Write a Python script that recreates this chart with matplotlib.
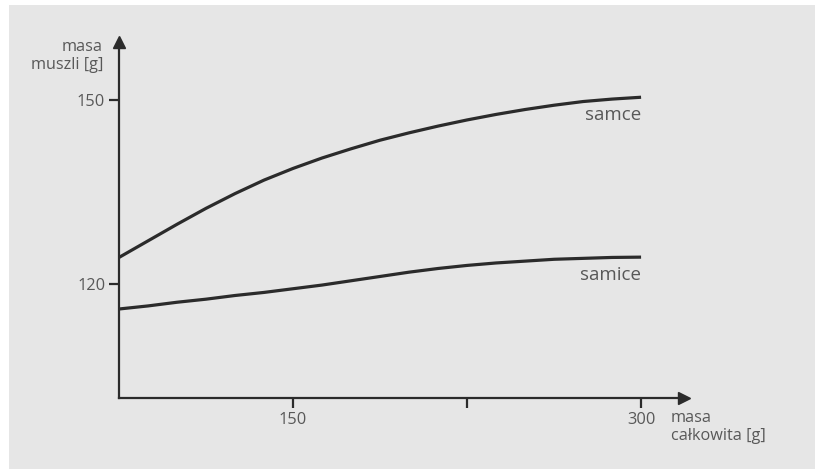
import matplotlib.pyplot as plt
from matplotlib.patches import Rectangle

# masa całkowita [g]
masa_calkowita = [75, 87.5, 100, 112.5, 125, 137.5, 150, 162.5, 175, 187.5,
                  200, 212.5, 225, 237.5, 250, 262.5, 275, 287.5, 300]
# masa muszli [g]
samce = [124.3, 127.0, 129.7, 132.3, 134.7, 136.9, 138.8, 140.5, 142.0, 143.4,
         144.6, 145.7, 146.7, 147.6, 148.4, 149.1, 149.7, 150.1, 150.4]
samice = [115.9, 116.4, 117.0, 117.5, 118.1, 118.6, 119.2, 119.8, 120.5, 121.2,
          121.9, 122.5, 123.0, 123.4, 123.7, 124.0, 124.15, 124.3, 124.35]

x_ticks = [150, 225, 300]
x_tick_labels = ["150", "", "300"]
y_ticks = [120, 150]
y_tick_labels = ["120", "150"]

plt.rcParams["font.family"] = ["Open Sans", "DejaVu Sans"]

bg = "#e6e6e6"
ink = "#2b2b2b"
txt = "#585858"

fig = plt.figure(figsize=(8.17, 4.69), dpi=100, facecolor="white")
fig.patches.append(Rectangle((9 / 817, 0), 806 / 817, 464 / 469,
                             transform=fig.transFigure, facecolor=bg,
                             edgecolor="none", zorder=-10))

ax = fig.add_axes([119 / 817, 1 - 398 / 469, (684 - 119) / 817, (398 - 42) / 469])
ax.set_facecolor("none")

ax.plot(masa_calkowita, samce, color=ink, lw=2.3, solid_capstyle="butt")
ax.plot(masa_calkowita, samice, color=ink, lw=2.3, solid_capstyle="butt")

ax.set_xlim(75, 318.5)
ax.set_ylim(101.4, 159.4)

for side in ["top", "right"]:
    ax.spines[side].set_visible(False)
for side in ["left", "bottom"]:
    ax.spines[side].set_color(ink)
    ax.spines[side].set_linewidth(1.6)

# groty strzałek
ax.plot(1, 0, marker=">", color=ink, ms=9, transform=ax.transAxes, clip_on=False)
ax.plot(0, 1, marker="^", color=ink, ms=9, transform=ax.transAxes, clip_on=False)

ax.set_xticks(x_ticks)
ax.set_xticklabels(x_tick_labels)
ax.set_yticks(y_ticks)
ax.set_yticklabels(y_tick_labels)
ax.tick_params(axis="both", direction="out", length=7, width=1.6, color=ink,
               labelcolor=txt, labelsize=11.8, pad=3)

ax.text(300, 147.55, "samce", ha="right", va="center", fontsize=13.5, color=txt)
ax.text(300, 121.5, "samice", ha="right", va="center", fontsize=13.5, color=txt)

fig.text(103 / 817, 1 - 39 / 469, "masa\nmuszli [g]", ha="right", va="top",
         fontsize=11.7, color=txt, linespacing=1.2)
fig.text(671 / 817, 1 - 410 / 469, "masa\ncałkowita [g]", ha="left", va="top",
         fontsize=11.7, color=txt, linespacing=1.2)

fig.savefig("out.png", dpi=100, facecolor="white")
